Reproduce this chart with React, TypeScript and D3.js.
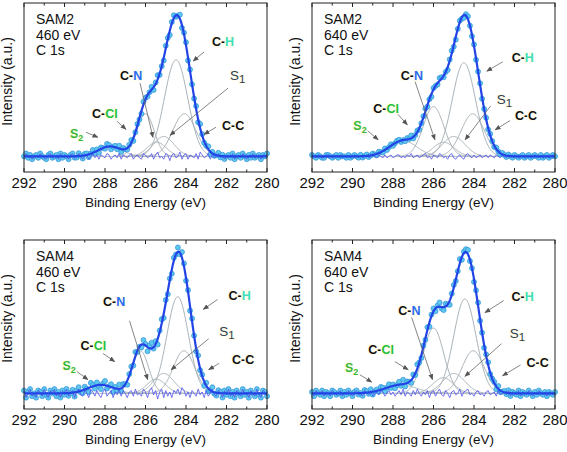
import React from "react";
import * as d3 from "d3";

// ---------- DATA ----------
const xTicks = [292, 290, 288, 286, 284, 282, 280];
const minorTicks = [291, 289, 287, 285, 283, 281];
const samples = ["SAM2", "SAM2", "SAM4", "SAM4"];
const photonEnergies = ["460 eV", "640 eV", "460 eV", "640 eV"];
const coreLevel = "C 1s";
const componentNames = ["S2", "C-Cl", "C-N", "S1", "C-H", "C-C"];
const energyStart = 292;
const energyStep = 0.1;

// fitted components: centre (eV), height (norm.), FWHM (eV) in order of componentNames
const centers_SAM2_460 = [287.75, 286.0, 285.45, 285.1, 284.49, 284.08];
const heights_SAM2_460 = [0.07, 0.3, 0.1, 0.14, 0.68, 0.3];
const fwhm_SAM2_460 = [1.4, 1.0, 1.1, 1.2, 1.35, 1.35];

const centers_SAM2_640 = [287.5, 286.0, 285.5, 285.0, 284.5, 284.06];
const heights_SAM2_640 = [0.11, 0.35, 0.1, 0.14, 0.66, 0.3];
const fwhm_SAM2_640 = [1.6, 1.2, 1.2, 1.3, 1.35, 1.35];

const centers_SAM4_460 = [288.2, 286.25, 285.47, 285.1, 284.41, 284.1];
const heights_SAM4_460 = [0.06, 0.3, 0.1, 0.14, 0.68, 0.3];
const fwhm_SAM4_460 = [1.5, 0.95, 1.1, 1.2, 1.25, 1.25];

const centers_SAM4_640 = [287.6, 286.0, 285.52, 285.0, 284.45, 284.04];
const heights_SAM4_640 = [0.06, 0.46, 0.11, 0.14, 0.665, 0.3];
const fwhm_SAM4_640 = [1.8, 1.2, 1.2, 1.3, 1.3, 1.3];

// residuals (data - fit), in units of 0.01, from 292.0 eV down to 280.0 eV
const residual_SAM2_460 = [
  0, 2, -1, 1, -2, 0, 1, -1, 2, 0, -1, -2, 1, 2, -1, 0, 1, -2, 2, -1,
  1, 0, -2, 1, 2, -1, -1, 2, 0, -2, 1, 1, -2, 0, 2, -1, 1, -2, 1, 0,
  -1, 2, 1, -2, 0, 1, -1, 2, -2, 1, 0, -1, 1, 2, -2, 0, 1, -1, -2, 2,
  1, -1, 0, 2, -2, 1, 3, -1, 0, -2, 2, 1, -3, 1, 2, -1, 0, 3, -2, 1,
  2, -2, 1, 0, -1, 2, -2, 3, 1, -1, 0, 2, -2, 1, -1, 0, 2, -1, 1, -2,
  0, 1, -1, 2, -2, 0, 1, -1, 2, 0, -2, 1, -1, 2, -1, 0, 1, -2, 1, 0, 2,
];
const residual_SAM2_640 = [
  1, 0, -1, 1, 0, -1, -1, 1, 1, 0, -1, 0, 1, -1, 1, 0, 0, -1, 1, -1,
  0, 1, 0, -1, 1, -1, 0, 1, -1, 0, 1, 0, -1, 1, 0, -1, 1, -1, 0, 1,
  -1, 0, 1, 1, -1, 0, -1, 1, 0, 2, -1, 0, 1, -1, 0, 1, 2, -1, 0, -2,
  1, 0, -1, 2, 1, -1, 0, -2, 1, 2, -1, -2, 0, 1, -1, -2, 1, 2, 0, -1,
  1, -1, 0, 1, -1, 0, 1, -1, 1, 0, -1, 1, 0, -1, 1, 0, -1, 1, 0, -1,
  1, 0, -1, 0, 1, -1, 0, 1, -1, 0, 1, 0, -1, 1, -1, 0, 1, -1, 0, 1, 0,
];
const residual_SAM4_460 = [
  2, -3, 1, 3, -2, 0, -3, 2, 1, -2, 3, -1, -3, 2, 0, 3, -2, 1, -3, 2,
  -1, 3, -2, 0, 2, -3, 1, 3, -1, -2, 2, 0, -3, 3, 1, -2, 2, -1, -3, 1,
  3, -2, 0, 2, -3, 1, -1, 3, -2, 2, 0, -3, 1, 2, -2, 3, -1, 0, -2, 3,
  1, -3, 2, 4, -1, 2, -4, 1, 3, -3, 2, -2, 1, -3, 2, 0, 3, -1, 4, 2,
  -2, 1, -3, 2, 0, -2, 3, -1, 1, -3, 2, -2, 0, 3, -1, -2, 2, 1, -3, 2,
  -1, 3, -2, 1, -3, 2, 0, -2, 3, -1, 1, -3, 2, 0, -2, 3, -1, -3, 2, 1, -2,
];
const residual_SAM4_640 = [
  1, -2, 2, 0, -1, 2, -2, 1, 0, -2, 2, 1, -1, 0, 2, -2, 1, -1, 2, 0,
  -2, 1, 2, -1, 0, -2, 2, 1, -1, 2, -2, 0, 1, -1, 2, 1, -2, 0, 2, -1,
  1, -2, 0, 2, -1, 3, -2, 1, 0, -2, 2, -1, 3, 0, -2, 1, -1, 2, -3, 1,
  2, -2, 1, 3, -1, -2, 2, 0, -3, 1, 2, -1, 0, 3, -2, 1, 2, 3, -1, 0,
  -2, 1, 2, -1, 0, -2, 1, 2, -1, 0, 1, -2, 2, -1, 0, 1, -1, 2, -2, 1,
  0, -1, 2, -2, 1, 0, -1, 2, 0, -2, 1, -1, 2, 0, -1, 1, -2, 1, 0, -1, 1,
];

// ---------- LAYOUT ----------
const W = 567;
const H = 452;
const PW = 243;
const PH = 169;
const yDomain = [-0.11, 1.08];
const FONT = "'Liberation Sans', Arial, Helvetica, sans-serif";

type Ann = { name: string; t: [number, number]; a: [number, number, number, number] };

const panelLayout = [
  {
    x: 24, y: 3,
    centers: centers_SAM2_460, heights: heights_SAM2_460, fwhm: fwhm_SAM2_460, residual: residual_SAM2_460,
    ann: [
      { name: "S2", t: [289.73, 0.127], a: [288.94, 0.17, 288.35, 0.134] },
      { name: "C-Cl", t: [288.64, 0.269], a: [287.41, 0.247, 286.96, 0.19] },
      { name: "C-N", t: [287.26, 0.537], a: [286.27, 0.516, 285.63, 0.134] },
      { name: "S1", t: [281.83, 0.537], a: [281.93, 0.48, 284.79, 0.148] },
      { name: "C-H", t: [282.72, 0.777], a: [283.11, 0.735, 283.65, 0.671] },
      { name: "C-C", t: [282.22, 0.184], a: [282.52, 0.205, 283.11, 0.155] },
    ] as Ann[],
  },
  {
    x: 312, y: 3,
    centers: centers_SAM2_640, heights: heights_SAM2_640, fwhm: fwhm_SAM2_640, residual: residual_SAM2_640,
    ann: [
      { name: "S2", t: [289.96, 0.187], a: [289.27, 0.182, 288.73, 0.117] },
      { name: "C-Cl", t: [288.97, 0.306], a: [287.82, 0.306, 287.29, 0.222] },
      { name: "C-N", t: [287.62, 0.537], a: [286.91, 0.526, 285.93, 0.117] },
      { name: "S1", t: [282.88, 0.369], a: [283.18, 0.355, 284.44, 0.117] },
      { name: "C-H", t: [282.14, 0.664], a: [282.58, 0.666, 283.37, 0.6] },
      { name: "C-C", t: [281.98, 0.257], a: [282.22, 0.252, 282.96, 0.187] },
    ] as Ann[],
  },
  {
    x: 24, y: 240,
    centers: centers_SAM4_460, heights: heights_SAM4_460, fwhm: fwhm_SAM4_460, residual: residual_SAM4_460,
    ann: [
      { name: "S2", t: [290.1, 0.164], a: [289.44, 0.159, 288.84, 0.097] },
      { name: "C-Cl", t: [289.21, 0.302], a: [288.1, 0.281, 287.52, 0.224] },
      { name: "C-N", t: [288.1, 0.613], a: [286.79, 0.511, 285.89, 0.097] },
      { name: "S1", t: [282.36, 0.406], a: [282.88, 0.385, 284.74, 0.166] },
      { name: "C-H", t: [281.9, 0.661], a: [282.44, 0.661, 283.15, 0.592] },
      { name: "C-C", t: [281.73, 0.205], a: [282.36, 0.212, 282.88, 0.166] },
    ] as Ann[],
  },
  {
    x: 312, y: 240,
    centers: centers_SAM4_640, heights: heights_SAM4_640, fwhm: fwhm_SAM4_640, residual: residual_SAM4_640,
    ann: [
      { name: "S2", t: [290.37, 0.15], a: [289.63, 0.131, 289.05, 0.079] },
      { name: "C-Cl", t: [289.22, 0.274], a: [287.91, 0.224, 287.25, 0.166] },
      { name: "C-N", t: [287.74, 0.551], a: [287.08, 0.535, 286.05, 0.097] },
      { name: "S1", t: [282.23, 0.392], a: [282.64, 0.35, 284.45, 0.12] },
      { name: "C-H", t: [282.15, 0.647], a: [282.53, 0.654, 283.46, 0.569] },
      { name: "C-C", t: [281.41, 0.185], a: [281.7, 0.2, 282.59, 0.124] },
    ] as Ann[],
  },
];

const COLORS = {
  frame: "#222",
  point: "#5ec8ee",
  pointStroke: "#2f8fd8",
  fit: "#2244e6",
  residual: "#5050ee",
  comp: "#a8b2b8",
  arrow: "#666",
  H: "#3fe0bb",
  N: "#2a6cf0",
  Cl: "#22c03a",
  S2: "#36b836",
  S1: "#2c3c4e",
};

function peak(E: number, c: number, h: number, w: number) {
  const g = Math.exp((-4 * Math.LN2 * (E - c) * (E - c)) / (w * w));
  return h * g;
}

function Label({ name, x, y }: { name: string; x: number; y: number }) {
  const common = {
    x, y, fontFamily: FONT, stroke: "#fffcec", strokeWidth: 2.5, paintOrder: "stroke" as any,
  };
  if (name === "S2" || name === "S1") {
    const col = name === "S2" ? COLORS.S2 : COLORS.S1;
    return (
      <text {...common} fontSize={name === "S1" ? 13.5 : 12.5} fontWeight={name === "S2" ? "bold" : "normal"} fill={col}>
        S
        <tspan fontSize={name === "S1" ? 11.5 : 9} dy={3}>{name.slice(1)}</tspan>
      </text>
    );
  }
  const tail = name.slice(2);
  const tailColor = tail === "H" ? COLORS.H : tail === "N" ? COLORS.N : tail === "Cl" ? COLORS.Cl : "#111";
  return (
    <text {...common} fontSize={12.5} fontWeight="bold" fill="#111">
      C-<tspan fill={tailColor}>{tail}</tspan>
    </text>
  );
}

function Panel({ p, i }: { p: (typeof panelLayout)[number]; i: number }) {
  const x = d3.scaleLinear().domain([292, 280]).range([p.x, p.x + PW]);
  const y = d3.scaleLinear().domain(yDomain).range([p.y + PH, p.y]);
  const fine = d3.range(0, 12.0001, 0.025).map((d) => 292 - d);
  const fitAt = (E: number) =>
    p.centers.reduce((s, c, k) => s + peak(E, c, p.heights[k], p.fwhm[k]), 0);
  const line = d3
    .line<[number, number]>()
    .x((d) => x(d[0]))
    .y((d) => y(d[1]));
  const pts = p.residual.map((r, k) => {
    const E = energyStart - k * energyStep;
    return [E, fitAt(E) + r / 100, r / 100] as [number, number, number];
  });
  const bottom = p.y + PH;
  return (
    <g>
      {/* components */}
      {p.centers.map((c, k) => {
        const seg = fine.filter((E) => Math.abs(E - c) < p.fwhm[k] * 1.6);
        return (
          <path key={k} d={line(seg.map((E) => [E, peak(E, c, p.heights[k], p.fwhm[k])]))!}
            fill="none" stroke={COLORS.comp} strokeWidth={1} />
        );
      })}
      <line x1={x(292)} x2={x(280)} y1={y(0)} y2={y(0)} stroke={COLORS.comp} strokeWidth={0.8} />
      {/* data points */}
      {pts.map((d, k) => (
        <circle key={k} cx={x(d[0])} cy={y(d[1])} r={2.5} fill={COLORS.point}
          stroke={COLORS.pointStroke} strokeWidth={0.7} />
      ))}
      {/* residual */}
      <path d={line(pts.map((d) => [d[0], d[2]]))!} fill="none" stroke={COLORS.residual} strokeWidth={0.8} />
      {/* fit envelope */}
      <path d={line(fine.map((E) => [E, fitAt(E)]))!} fill="none" stroke={COLORS.fit} strokeWidth={2.2} />
      {/* annotations */}
      {p.ann.map((a, k) => (
        <g key={k}>
          <line x1={x(a.a[0])} y1={y(a.a[1])} x2={x(a.a[2])} y2={y(a.a[3])} stroke={COLORS.arrow}
            strokeWidth={0.8} markerEnd="url(#arrowHead)" />
          <Label name={a.name} x={x(a.t[0])} y={y(a.t[1])} />
        </g>
      ))}
      {/* frame */}
      <rect x={p.x} y={p.y} width={PW} height={PH} fill="none" stroke={COLORS.frame} strokeWidth={1} />
      {xTicks.map((t) => (
        <g key={"M" + t}>
          <line x1={x(t)} x2={x(t)} y1={bottom} y2={bottom - 4} stroke={COLORS.frame} />
          <line x1={x(t)} x2={x(t)} y1={p.y} y2={p.y + 4} stroke={COLORS.frame} />
          <text x={x(t)} y={bottom + 16} textAnchor="middle" fontSize={15} fontFamily={FONT} fill="#111">
            {t}
          </text>
        </g>
      ))}
      {minorTicks.map((t) => (
        <g key={"m" + t}>
          <line x1={x(t)} x2={x(t)} y1={bottom} y2={bottom - 2.5} stroke={COLORS.frame} />
          <line x1={x(t)} x2={x(t)} y1={p.y} y2={p.y + 2.5} stroke={COLORS.frame} />
        </g>
      ))}
      <text x={p.x + PW / 2} y={bottom + 35} textAnchor="middle" fontSize={13.5} fontFamily={FONT} fill="#111">
        Binding Energy (eV)
      </text>
      <text transform={`translate(${p.x - 12},${p.y + PH / 2 - 6}) rotate(-90)`} textAnchor="middle"
        fontSize={14} fontFamily={FONT} fill="#111">
        Intensity (a.u.)
      </text>
      <text x={p.x + 12} fontSize={14} fontFamily={FONT} fill="#111">
        <tspan x={p.x + 12} y={p.y + 21}>{samples[i]}</tspan>
        <tspan x={p.x + 12} y={p.y + 36.5}>{photonEnergies[i]}</tspan>
        <tspan x={p.x + 12} y={p.y + 52}>{coreLevel}</tspan>
      </text>
    </g>
  );
}

export default function App() {
  return (
    <svg width={W} height={H} style={{ position: "absolute", left: 0, top: 0, background: "#fff" }}>
      <defs>
        <marker id="arrowHead" viewBox="0 0 10 10" refX="9" refY="5" markerWidth="6" markerHeight="6"
          markerUnits="userSpaceOnUse" orient="auto">
          <path d="M0,1 L10,5 L0,9 z" fill="#555" />
        </marker>
      </defs>
      {panelLayout.map((p, i) => (
        <Panel key={i} p={p} i={i} />
      ))}
    </svg>
  );
}
